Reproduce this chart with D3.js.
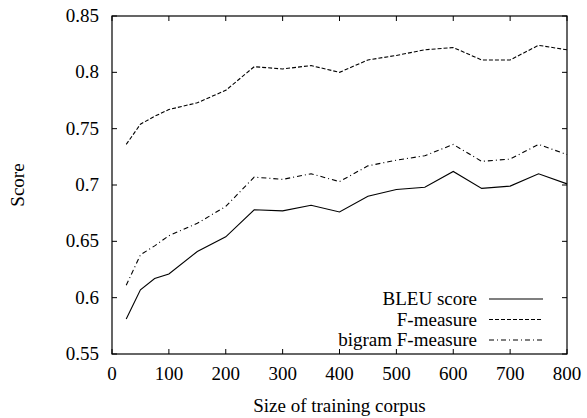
<!DOCTYPE html>
<html><head><meta charset="utf-8">
<script src="https://cdn.jsdelivr.net/npm/d3@7"></script>
<style>body{margin:0;background:#fff}svg{display:block}</style>
</head><body>
<svg id="c" width="587" height="418"></svg>
<script>
const sizes = [25,50,75,100,150,200,250,300,350,400,450,500,550,600,650,700,750,800];
const bleu = [0.581,0.607,0.617,0.621,0.641,0.654,0.678,0.677,0.682,0.676,0.690,0.696,0.698,0.712,0.697,0.699,0.710,0.701];
const fmeasure = [0.736,0.754,0.761,0.767,0.773,0.784,0.805,0.803,0.806,0.800,0.811,0.815,0.820,0.822,0.811,0.811,0.824,0.820];
const bigram = [0.611,0.638,0.646,0.655,0.666,0.681,0.707,0.705,0.710,0.703,0.717,0.722,0.726,0.736,0.721,0.723,0.736,0.727];
const xTicks = [0,100,200,300,400,500,600,700,800];
const yTicks = [0.55,0.6,0.65,0.7,0.75,0.8,0.85];
const seriesNames = ["BLEU score","F-measure","bigram F-measure"];
const dashes = [null,"4,2","5,3,1,3"];

const L=112,R=567,T=16,B=354,FS=19;
const svg=d3.select("#c");
const x=d3.scaleLinear().domain([0,800]).range([L,R]);
const y=d3.scaleLinear().domain([0.55,0.85]).range([B,T]);
function txt(sel){ sel.style("font-family",'"Liberation Serif", "Times New Roman", Tinos, Times').style("font-size","19px").attr("fill","#000"); }

const tk=5;
const g=svg.append("g").attr("stroke","#000").attr("stroke-width",1);
xTicks.forEach(v=>{
  g.append("line").attr("x1",x(v)).attr("x2",x(v)).attr("y1",B).attr("y2",B-tk);
  g.append("line").attr("x1",x(v)).attr("x2",x(v)).attr("y1",T).attr("y2",T+tk);
});
yTicks.forEach(v=>{
  g.append("line").attr("x1",L).attr("x2",L+tk).attr("y1",y(v)).attr("y2",y(v));
  g.append("line").attr("x1",R).attr("x2",R-tk).attr("y1",y(v)).attr("y2",y(v));
});
svg.append("rect").attr("x",L).attr("y",T).attr("width",R-L).attr("height",B-T).attr("fill","none").attr("stroke","#000").attr("stroke-width",1.2);

xTicks.forEach(d=>{
  svg.append("text").attr("x",x(d)).attr("y",B+26).attr("text-anchor","middle").call(txt).text(String(d));
});
yTicks.forEach(d=>{
  svg.append("text").attr("x",L-13).attr("y",y(d)+6).attr("text-anchor","end").call(txt).text(String(+d.toFixed(2)));
});

svg.append("text").attr("x",(L+R)/2).attr("y",412).attr("text-anchor","middle").call(txt).text("Size of training corpus");
svg.append("text").attr("transform",`translate(24,${(T+B)/2}) rotate(-90)`).attr("text-anchor","middle").call(txt).text("Score");

const line=d3.line().x((d,i)=>x(sizes[i])).y(d=>y(d));
[bleu,fmeasure,bigram].forEach((s,k)=>{
  svg.append("path").datum(s).attr("d",line).attr("fill","none").attr("stroke","#000").attr("stroke-width",1.1)
    .attr("stroke-dasharray",dashes[k]);
});

seriesNames.forEach((n,k)=>{
  const yy=299+k*20.5;
  svg.append("text").attr("x",477).attr("y",yy+6).attr("text-anchor","end").call(txt).text(n);
  svg.append("line").attr("x1",489).attr("x2",543).attr("y1",yy).attr("y2",yy).attr("stroke","#000").attr("stroke-width",1.1).attr("stroke-dasharray",dashes[k]);
});
</script>
</body></html>
